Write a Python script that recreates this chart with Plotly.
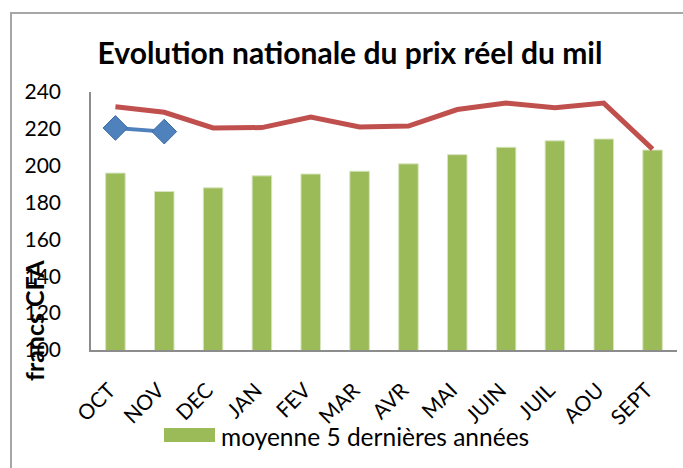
import plotly.graph_objects as go

months = ["OCT", "NOV", "DEC", "JAN", "FEV", "MAR", "AVR", "MAI", "JUIN", "JUIL", "AOU", "SEPT"]
moyenne_5ans = [196, 186, 188, 194.5, 195.5, 197, 201, 206, 210, 213.5, 214.5, 208.5]
annee_precedente = [232, 229, 220.5, 220.7, 226.4, 221, 221.5, 230.5, 234, 231.5, 234, 209]
annee_courante = [220.5, 218.5]
courant_months = months[:2]
legend_label = "moyenne 5 dernières années"

FONT = "Lato, Open Sans, sans-serif"
BAR_COLOR = "#9BBB59"
L, R, T, B = 91, 6, 92, 118
PW = 683 - L - R
PH = 468 - T - B

def px_x(x):
    return (x - L) / PW

def px_y(y):
    return (468 - B - y) / PH

fig = go.Figure()
fig.add_trace(go.Bar(
    x=months, y=moyenne_5ans, name=legend_label,
    marker=dict(color=BAR_COLOR, line=dict(color="#D7E4BD", width=1)),
    showlegend=False,
))
fig.add_trace(go.Scatter(
    x=months, y=annee_precedente, mode="lines", name="année précédente",
    line=dict(color="#C0504D", width=5), showlegend=False,
))
fig.add_trace(go.Scatter(
    x=courant_months, y=annee_courante, mode="lines+markers", name="année en cours",
    line=dict(color="#4F81BD", width=4),
    marker=dict(symbol="diamond", size=19, color="#4F81BD", line=dict(color="#3A6BA5", width=1)),
    showlegend=False,
))

fig.update_layout(
    width=683, height=468,
    margin=dict(l=L, r=R, t=T, b=B, autoexpand=False),
    paper_bgcolor="white", plot_bgcolor="white",
    bargap=0.6,
    font=dict(family=FONT, size=21, color="black"),
    title=dict(text="<b>Evolution nationale du prix réel du mil</b>",
               x=350 / 683, xanchor="center", y=1 - 53 / 468, yanchor="middle",
               font=dict(family=FONT, size=30, color="black")),
    xaxis=dict(type="category", range=[-0.5, len(months) - 0.5],
               tickangle=-45, showline=True, linecolor="#8C8C8C", linewidth=1.5, automargin=False,
               ticks="", showgrid=False, tickfont=dict(size=21),
               ticklabelstandoff=18, ticklabelshift=-6),
    yaxis=dict(range=[100, 240], dtick=20, showline=True, linecolor="#8C8C8C", linewidth=1.5,
               automargin=False, ticks="", showgrid=False, tickfont=dict(size=21), ticklabelstandoff=24),
    showlegend=False,
    annotations=[
        dict(text="<b>francs CFA</b>", textangle=-90, xref="paper", yref="paper",
             x=px_x(34), y=px_y(321), xanchor="center", yanchor="middle",
             showarrow=False, font=dict(size=25, family=FONT)),
        dict(text=legend_label, xref="paper", yref="paper",
             x=px_x(219), y=px_y(436), xanchor="left", yanchor="middle",
             showarrow=False, font=dict(size=24.5, family=FONT)),
    ],
    shapes=[
        dict(type="rect", xref="paper", yref="paper",
             x0=px_x(11), x1=1.2, y0=-0.6, y1=px_y(13),
             line=dict(color="#A6A6A6", width=2), fillcolor="rgba(0,0,0,0)", layer="below"),
        dict(type="rect", xref="paper", yref="paper",
             x0=px_x(164), x1=px_x(215), y0=px_y(442), y1=px_y(428),
             line=dict(width=0), fillcolor=BAR_COLOR),
    ],
)

fig.write_html("out.html", config={"displayModeBar": False},
               post_script="document.body.style.margin='0px';")
